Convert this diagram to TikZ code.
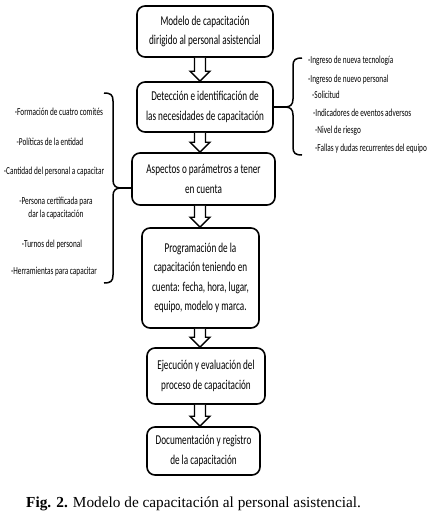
\documentclass[tikz,border=0pt]{standalone}
\usepackage{fontspec}
\setmainfont{Liberation Serif}
\newfontfamily\diag{Carlito}[FakeStretch=0.68]
\usetikzlibrary{calc}
\newcommand{\flechaHueca}[2]{%
  \path (#1 -| eje) coordinate (fa) (#2 -| eje) coordinate (fb);
  \draw[flecha] ($(fa)+(-5.5,0)$) -- ($(fb)+(-5.5,-10)$) -- ($(fb)+(-10,-10)$) -- (fb)
    -- ($(fb)+(10,-10)$) -- ($(fb)+(5.5,-10)$) -- ($(fa)+(5.5,0)$);}

\begin{document}
\begin{tikzpicture}[
  x=1pt, y=-1pt,
  caja/.style={draw=black, line width=1.6pt, rounded corners=8pt, fill=white,
    align=center, inner sep=0pt, font=\diag\fontsize{13.5}{19.5}\selectfont},
  flecha/.style={draw=black, line width=1.4pt, fill=white, line join=miter},
  llave/.style={draw=black, line width=1.5pt},
  item/.style={inner sep=0pt, align=center, font=\diag\fontsize{10.7}{13}\selectfont}
]
\fill[white] (0,0) rectangle (433,515);
\useasboundingbox (0,0) rectangle (433,515);

% Main process boxes.
\node[caja, minimum width=136pt, minimum height=51pt] (b1) at (205,31.5)
  {Modelo de capacitación\\dirigido al personal asistencial};
\node[caja, minimum width=136pt, minimum height=50pt] (b2) at (205,107)
  {Detección e identificación de\\las necesidades de capacitación};
\node[caja, minimum width=143pt, minimum height=52pt] (b3) at (203.5,179)
  {Aspectos o parámetros a tener\\en cuenta};
\node[caja, minimum width=117pt, minimum height=100pt] (b4) at (200.5,278)
  {Programación de la\\capacitación teniendo en\\cuenta: fecha, hora, lugar,\\equipo, modelo y marca.};
\node[caja, minimum width=118pt, minimum height=56pt] (b5) at (206,376)
  {Ejecución y evaluación del\\proceso de capacitación};
\node[caja, minimum width=113pt, minimum height=48pt] (b6) at (203.5,451)
  {Documentación y registro\\de la capacitación};

% Hollow arrows between the boxes.
\coordinate (eje) at (200,0);
\flechaHueca{b1.south}{b2.north}
\flechaHueca{b2.south}{b3.north}
\flechaHueca{b3.south}{b4.north}
\flechaHueca{b4.south}{b5.north}
\flechaHueca{b5.south}{b6.north}

% Right brace: triggers of the detection step.
\coordinate (puntaD) at (285,107);
\draw[llave] (302,58) .. controls (295,58) and (293,60) .. (293,66) -- (293,99)
  .. controls (293,105) and (290,107) .. (puntaD)
  .. controls (290,107) and (293,109) .. (293,115) -- (293,147)
  .. controls (293,153) and (295,155) .. (302,155);
\draw[llave] (b2.east) -- (puntaD);
\node[item, anchor=west] (d1) at (308,61) {-Ingreso de nueva tecnología};
\node[item, anchor=west] (d2) at (308,80) {-Ingreso de nuevo personal};
\node[item, anchor=west] (d3) at (312,95) {-Solicitud};
\node[item, anchor=west] (d4) at (313,113) {-Indicadores de eventos adversos};
\node[item, anchor=west] (d5) at (315,131) {-Nivel de riesgo};
\node[item, anchor=west] (d6) at (315,149) {-Fallas y dudas recurrentes del equipo};

% Left brace: aspects to take into account.
\coordinate (puntaI) at (121,188);
\draw[llave] (104,93) .. controls (111,93) and (113,95) .. (113,101) -- (113,180)
  .. controls (113,186) and (116,188) .. (puntaI)
  .. controls (116,188) and (113,190) .. (113,196) -- (113,275)
  .. controls (113,281) and (111,283) .. (104,283);
\draw[llave] (puntaI) -- (puntaI -| b3.west);
\node[item] (i1) at (59,112) {-Formación de cuatro comités};
\node[item] (i2) at (50,142) {-Políticas de la entidad};
\node[item] (i3) at (54,172) {-Cantidad del personal a capacitar};
\node[item] (i4) at (56,208.5) {-Persona certificada para\\dar la capacitación};
\node[item] (i5) at (52,245) {-Turnos del personal};
\node[item] (i6) at (54,272) {-Herramientas para capacitar};

% Caption.
\node[anchor=west, inner sep=0pt, font=\fontsize{15.3}{18}\selectfont] (pie) at (26,504)
  {\textbf{Fig. 2.} Modelo de capacitación al personal asistencial.};
\end{tikzpicture}
\end{document}
